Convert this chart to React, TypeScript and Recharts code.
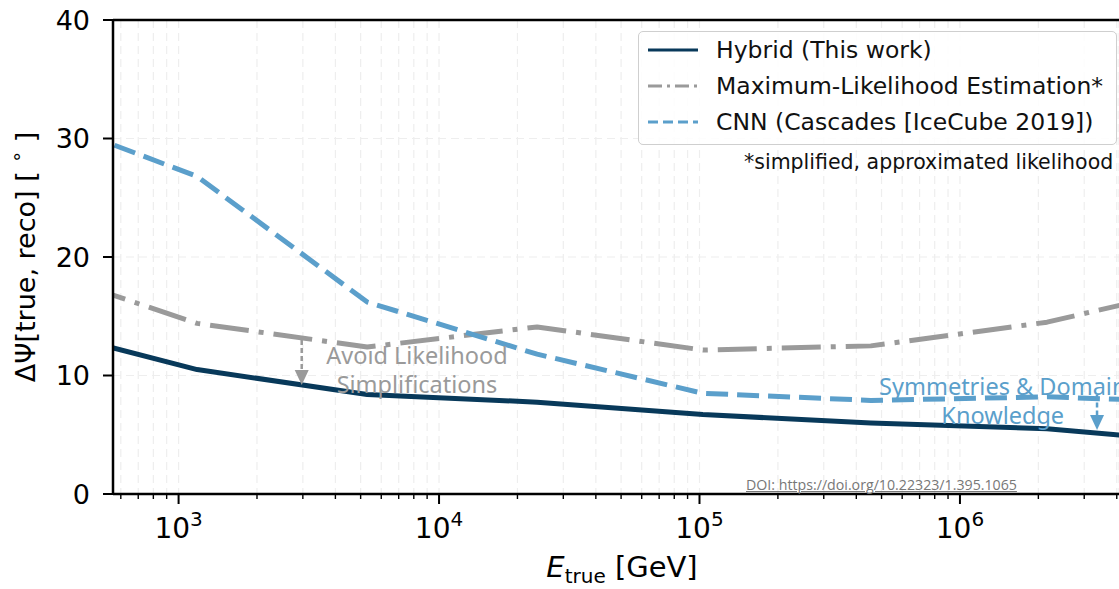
import React from 'react';
import { LineChart, Line, XAxis, YAxis, CartesianGrid, ReferenceLine, ReferenceDot, Label } from 'recharts';

/* Angular resolution vs true energy — three reconstruction methods. */

// bin centres (GeV); the outer two fall outside the visible window and get clipped
const energyGeV = [263, 1178, 5300, 23800, 103000, 455000, 2160000, 9550000];
const hybrid = [14.2, 10.5, 8.4, 7.75, 6.7, 6.0, 5.5, 4.3];
const mle = [19.2, 14.4, 12.4, 14.1, 12.15, 12.5, 14.5, 17.8];
const cnn = [32.2, 26.8, 16.2, 11.8, 8.5, 7.9, 8.2, 7.7];

const xMajorTicks = [1e3, 1e4, 1e5, 1e6];
const xMinorMantissas = [2, 3, 4, 5, 6, 7, 8, 9];
const xDecades = [1e2, 1e3, 1e4, 1e5, 1e6];
const yTicks = [0, 10, 20, 30, 40];

const X_DOMAIN: [number, number] = [560, 4.08e6];

const seriesNames = ['Hybrid (This work)', 'Maximum-Likelihood Estimation*', 'CNN (Cascades [IceCube 2019])'];

const NAVY = '#08395a';
const GREY = '#9a9a9a';
const BLUE = '#5b9fcb';
const FONT = '"DejaVu Sans", sans-serif';
const ANNO_FONT = '"Noto Sans", sans-serif';

const MLE_DASH = '39 10 5 10';
const CNN_DASH = '22 9';

const rows = energyGeV.map((e, i) => ({ energy: e, hybrid: hybrid[i], mle: mle[i], cnn: cnn[i] }));

const minorTicks = xDecades
  .flatMap((d) => xMinorMantissas.map((m) => m * d))
  .filter((v) => v > X_DOMAIN[0] && v < X_DOMAIN[1]);
const allXTicks = [...xMajorTicks, ...minorTicks].sort((a, b) => a - b);

// annotation anchors (data coords)
const ML_ARROW_X = 2970;
const DOMAIN_ARROW_X = 3.36e6;
const ML_TEXT = { x: 8230, y: 11.65 };
const DOMAIN_TEXT = { x: 1.46e6, y: 9.0 };

const XTick = (p: any) => {
  const { x, y, payload } = p;
  const v = payload.value as number;
  const major = xMajorTicks.includes(v);
  return (
    <g>
      <line x1={x} x2={x} y1={y} y2={y + (major ? 10 : 5)} stroke="#000" strokeWidth={major ? 2 : 1.4} />
      {major && (
        <text x={x} y={y + 44} textAnchor="middle" fontFamily={FONT} fontSize={28} fill="#000">
          10
          <tspan dy={-12} fontSize={20}>
            {Math.round(Math.log10(v))}
          </tspan>
        </text>
      )}
    </g>
  );
};

const YTick = (p: any) => {
  const { x, y, payload } = p;
  return (
    <g>
      <line x1={x - 10} x2={x} y1={y} y2={y} stroke="#000" strokeWidth={2} />
      <text x={x - 23} y={y} textAnchor="end" dominantBaseline="central" fontFamily={FONT} fontSize={27} fill="#000">
        {payload.value}
      </text>
    </g>
  );
};

const XTitle = (p: any) => {
  const vb = p.viewBox || { x: 113, y: 494, width: 1006, height: 95 };
  return (
    <text x={vb.x + vb.width / 2 + 6} y={vb.y + 83} textAnchor="middle" fontFamily={FONT} fontSize={29} fill="#000">
      <tspan fontStyle="italic">E</tspan>
      <tspan dy={6} fontSize={20}>true</tspan>
      <tspan dy={-6}> [GeV]</tspan>
    </text>
  );
};

const YTitle = (p: any) => {
  const vb = p.viewBox || { x: 0, y: 20, width: 113, height: 474 };
  const cx = vb.x + 25;
  const cy = vb.y + vb.height / 2;
  return (
    <text
      x={cx}
      y={cy}
      transform={`rotate(-90 ${cx} ${cy})`}
      textAnchor="middle"
      dominantBaseline="central"
      fontFamily={FONT}
      fontSize={27}
      fill="#000"
    >
      ΔΨ[true, reco] [ <tspan dy={-9} fontSize={19}>∘</tspan>
      <tspan dy={9}> ]</tspan>
    </text>
  );
};

const arrowHead = (color: string) => (p: any) => (
  <polygon points={`${p.cx - 7},${p.cy - 15} ${p.cx + 7},${p.cy - 15} ${p.cx},${p.cy}`} fill={color} />
);

const twoLines = (a: string, b: string, color: string) => (p: any) => (
  <text x={p.cx} y={p.cy} textAnchor="middle" fontFamily={ANNO_FONT} fontSize={23.5} fill={color}>
    <tspan x={p.cx} dy={8}>{a}</tspan>
    <tspan x={p.cx} dy={29}>{b}</tspan>
  </text>
);

const LegendSample = ({ color, dash }: { color: string; dash?: string }) => (
  <svg width={52} height={8} style={{ display: 'block' }}>
    <line x1={1} x2={51} y1={4} y2={4} stroke={color} strokeWidth={3.2} strokeDasharray={dash} />
  </svg>
);

export default function App() {
  const legendItems = [
    { name: seriesNames[0], color: NAVY, dash: undefined },
    { name: seriesNames[1], color: GREY, dash: '14 5 3 5' },
    { name: seriesNames[2], color: BLUE, dash: '10 5' },
  ];
  return (
    <div style={{ position: 'relative', width: 1119, height: 589, overflow: 'hidden', background: '#fff' }}>
      <style>{`body{margin:0}`}</style>
      <LineChart width={1119} height={589} data={rows} margin={{ top: 20, right: 0, bottom: 0, left: 0 }}>
        <CartesianGrid stroke="#eeeeee" strokeWidth={1.2} strokeDasharray="8 5" />
        <XAxis
          dataKey="energy"
          type="number"
          scale="log"
          domain={X_DOMAIN}
          allowDataOverflow
          ticks={allXTicks}
          interval={0}
          tick={<XTick />}
          tickLine={false}
          tickSize={0}
          tickMargin={0}
          height={95}
          axisLine={{ stroke: '#000', strokeWidth: 2.5 }}
        >
          <Label content={<XTitle />} />
        </XAxis>
        <YAxis
          type="number"
          domain={[0, 40]}
          ticks={yTicks}
          interval={0}
          tick={<YTick />}
          tickLine={false}
          tickSize={0}
          tickMargin={0}
          width={113}
          axisLine={{ stroke: '#000', strokeWidth: 2.5 }}
        >
          <Label content={<YTitle />} />
        </YAxis>
        <ReferenceLine y={40} stroke="#000" strokeWidth={2.5} />

        <Line dataKey="hybrid" name={seriesNames[0]} stroke={NAVY} strokeWidth={5} strokeLinejoin="round" dot={false} isAnimationActive={false} />
        <Line dataKey="mle" name={seriesNames[1]} stroke={GREY} strokeWidth={5} strokeDasharray={MLE_DASH} strokeLinejoin="round" dot={false} isAnimationActive={false} />
        <Line dataKey="cnn" name={seriesNames[2]} stroke={BLUE} strokeWidth={5} strokeDasharray={CNN_DASH} strokeLinejoin="round" dot={false} isAnimationActive={false} />

        <ReferenceLine segment={[{ x: ML_ARROW_X, y: 13.0 }, { x: ML_ARROW_X, y: 10.5 }]} stroke={GREY} strokeWidth={2.5} strokeDasharray="5 3" />
        <ReferenceDot x={ML_ARROW_X} y={9.2} shape={arrowHead(GREY)} />
        <ReferenceDot x={ML_TEXT.x} y={ML_TEXT.y} shape={twoLines('Avoid Likelihood', 'Simplifications', GREY)} />

        <ReferenceLine segment={[{ x: DOMAIN_ARROW_X, y: 8.4 }, { x: DOMAIN_ARROW_X, y: 6.6 }]} stroke={BLUE} strokeWidth={2.5} strokeDasharray="5 3" />
        <ReferenceDot x={DOMAIN_ARROW_X} y={5.4} shape={arrowHead(BLUE)} />
        <ReferenceDot x={DOMAIN_TEXT.x} y={DOMAIN_TEXT.y} shape={twoLines('Symmetries & Domain', 'Knowledge', BLUE)} />
      </LineChart>

      {/* legend */}
      <div
        style={{
          position: 'absolute',
          left: 638,
          top: 31,
          width: 477,
          height: 112,
          border: '1.5px solid #cfcfcf',
          borderRadius: 5,
          background: 'rgba(255,255,255,0.85)',
          fontFamily: FONT,
          fontSize: 23.5,
          color: '#111',
        }}
      >
        {legendItems.map((it, i) => (
          <div key={it.name} style={{ position: 'absolute', left: 8, top: 3 + i * 36, height: 30, display: 'flex', alignItems: 'center' }}>
            <LegendSample color={it.color} dash={it.dash} />
            <span style={{ marginLeft: 17, whiteSpace: 'nowrap' }}>{it.name}</span>
          </div>
        ))}
      </div>
      <div style={{ position: 'absolute', left: 744, top: 150, fontFamily: FONT, fontSize: 20.5, color: '#111', whiteSpace: 'nowrap' }}>
        *simplified, approximated likelihood
      </div>
      <div
        style={{
          position: 'absolute',
          left: 746,
          top: 475,
          fontFamily: '"Open Sans", sans-serif',
          fontSize: 14.2,
          color: '#777',
          textDecoration: 'underline',
          whiteSpace: 'nowrap',
        }}
      >
        DOI: https://doi.org/10.22323/1.395.1065
      </div>
    </div>
  );
}
